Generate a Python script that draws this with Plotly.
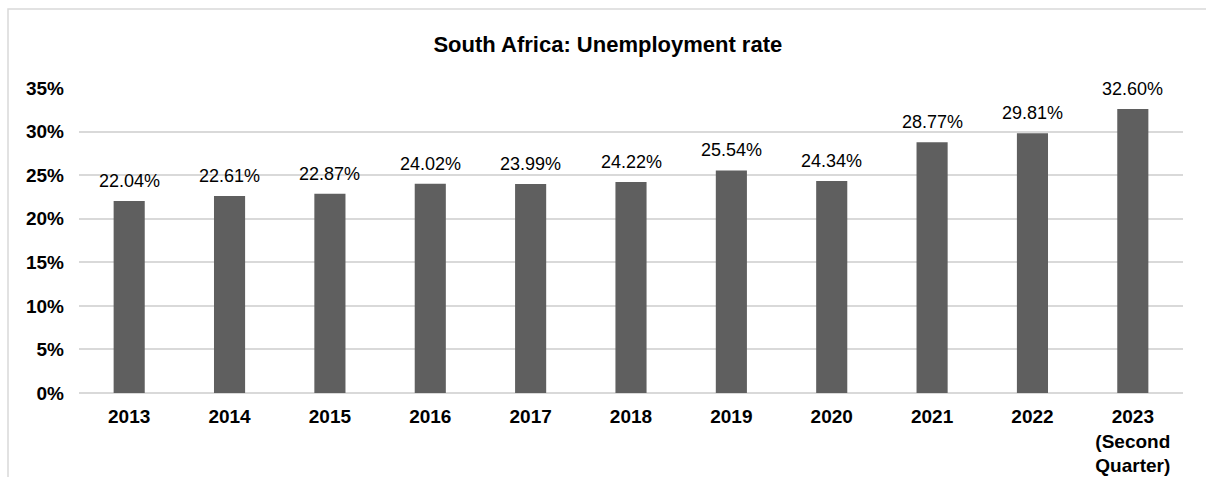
import plotly.graph_objects as go

categories = ["2013", "2014", "2015", "2016", "2017", "2018", "2019", "2020", "2021", "2022",
              "2023<br>(Second<br>Quarter)"]
rates = [22.04, 22.61, 22.87, 24.02, 23.99, 24.22, 25.54, 24.34, 28.77, 29.81, 32.60]
labels = ["22.04%", "22.61%", "22.87%", "24.02%", "23.99%", "24.22%", "25.54%", "24.34%",
          "28.77%", "29.81%", "32.60%"]
y_ticks = [0, 5, 10, 15, 20, 25, 30, 35]
y_ticktext = ["0%", "5%", "10%", "15%", "20%", "25%", "30%", "35%"]

FONT = "Liberation Sans, Arial, sans-serif"

fig = go.Figure()
fig.add_trace(go.Bar(x=categories, y=rates, marker=dict(color="#5f5f5f", line=dict(width=0)),
                     hoverinfo="skip"))

# category axis: annotation x given as category index
for i, (v, t) in enumerate(zip(rates, labels)):
    fig.add_annotation(x=i, y=v, text=t, showarrow=False, yanchor="bottom", yshift=8,
                       font=dict(family=FONT, size=18, color="#000000"))

# light grey chart frame (top and left visible)
fig.add_shape(type="rect", xref="paper", yref="paper",
              x0=(8 - 79) / 1104, x1=(1215 - 79) / 1104,
              y0=(393 - 485) / 305, y1=(393 - 9) / 305,
              line=dict(color="#d9d9d9", width=1.5), fillcolor="rgba(0,0,0,0)", layer="below")

fig.update_layout(
    width=1206, height=477,
    margin=dict(l=79, r=23, t=88, b=84),
    paper_bgcolor="white", plot_bgcolor="white",
    bargap=0.69,
    showlegend=False,
    title=dict(text="South Africa: Unemployment rate", x=0.504, xanchor="center",
               y=1 - 44 / 477, yanchor="middle", yref="container",
               font=dict(family=FONT, size=22, color="#000000", weight="bold")),
    xaxis=dict(type="category", range=[-0.5, len(categories) - 0.5], automargin=False,
               showgrid=False, showline=False, ticks="", ticklabelstandoff=10,
               tickfont=dict(family=FONT, size=19, color="#000000", weight="bold")),
    yaxis=dict(range=[0, 35], tickvals=y_ticks, ticktext=y_ticktext, automargin=False,
               showgrid=True, gridcolor="#d9d9d9", gridwidth=1.5,
               zeroline=True, zerolinecolor="#d9d9d9", zerolinewidth=1.5,
               showline=False, ticks="", ticklabelstandoff=14,
               tickfont=dict(family=FONT, size=19, color="#000000", weight="bold")),
)

fig.write_html("out.html")
